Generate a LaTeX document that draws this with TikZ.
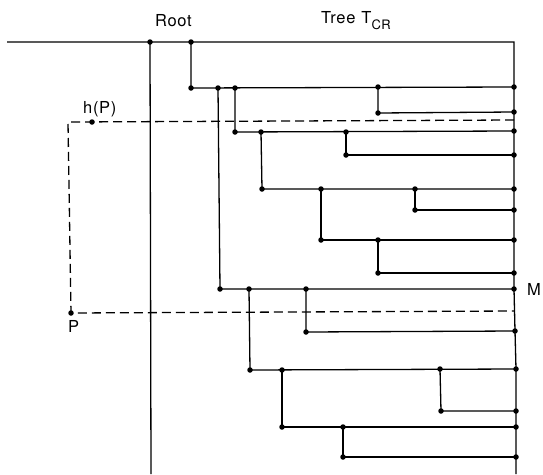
\documentclass[tikz,border=0pt]{standalone}
\usepackage{fontspec}
\setmainfont{TeX Gyre Heros}[LetterSpace=4]
\begin{document}
\begin{tikzpicture}[x=1pt,y=-1pt,
  edge/.style={line width=1.3pt},
  dashline/.style={line width=1.3pt,dash pattern=on 9pt off 5pt},
  dot/.style={circle,fill=black,inner sep=0pt,minimum size=5.5pt},
  lbl/.style={inner sep=0pt,anchor=base west,font=\fontsize{16.5}{18}\selectfont}]
\useasboundingbox (0,0) rectangle (543,474);
% coordinates
\coordinate (L0) at (7,42);
\coordinate (TR) at (514,42);
\coordinate (RB) at (151,474);
\coordinate (EB) at (516,474);
\node[dot] (R0) at (150,42) {};
\node[dot] (A) at (191,42) {};
\node[dot] (A1) at (191,88) {};
\node[dot] (B1) at (218,88) {};
\node[dot] (B2) at (235,88) {};
\node[dot] (C) at (378,87) {};
\node[dot] (E1) at (514,87) {};
\node[dot] (C1) at (378,113) {};
\node[dot] (E2) at (514,112) {};
\node[dot] (D) at (235,132) {};
\node[dot] (D1) at (261,132) {};
\node[dot] (D2) at (346,132) {};
\node[dot] (E3) at (514,131) {};
\node[dot] (D3) at (346,155) {};
\node[dot] (E4) at (514,155) {};
\node[dot] (F) at (262,189) {};
\node[dot] (F1) at (321,189) {};
\node[dot] (F2) at (415,189) {};
\node[dot] (E5) at (514,189) {};
\node[dot] (F3) at (415,210) {};
\node[dot] (E6) at (514,210) {};
\node[dot] (G) at (321,240) {};
\node[dot] (G1) at (378,240) {};
\node[dot] (E7) at (514,240) {};
\node[dot] (G2) at (378,273) {};
\node[dot] (E8) at (514,273) {};
\node[dot] (H) at (220,289) {};
\node[dot] (H1) at (249,289) {};
\node[dot] (H2) at (306,289) {};
\node[dot] (M) at (514,289) {};
\node[dot] (H3) at (306,332) {};
\node[dot] (E10) at (515,331) {};
\node[dot] (I) at (250,370) {};
\node[dot] (I1) at (282,370) {};
\node[dot] (I2) at (440,369) {};
\node[dot] (E11) at (516,369) {};
\node[dot] (I3) at (441,411) {};
\node[dot] (E12) at (516,411) {};
\node[dot] (J) at (282,427) {};
\node[dot] (J1) at (343,427) {};
\node[dot] (E13) at (516,427) {};
\node[dot] (J2) at (343,457) {};
\node[dot] (E14) at (516,457) {};
% dashed path
\node[dot] (hP) at (92,122) {};
\node[dot] (P) at (71,313) {};
\coordinate (Q1) at (514,120);
\coordinate (Q0) at (68,122);
\coordinate (Q2) at (514,311);
% solid edges
\draw[edge] (L0) -- (TR) -- (E1.center) -- (E2.center) -- (E3.center) -- (E4.center) -- (E5.center) -- (E6.center) -- (E7.center) -- (E8.center) -- (M.center) -- (E10.center) -- (E11.center) -- (E12.center) -- (E13.center) -- (E14.center) -- (EB);
\draw[edge] (R0.center) -- (RB);
\draw[edge] (A.center) -- (A1.center) -- (E1.center);
\draw[edge] (C.center) -- (C1.center) -- (E2.center);
\draw[edge] (B2.center) -- (D.center) -- (E3.center);
\draw[edge] (D2.center) -- (D3.center) -- (E4.center);
\draw[edge] (D1.center) -- (F.center) -- (E5.center);
\draw[edge] (F2.center) -- (F3.center) -- (E6.center);
\draw[edge] (F1.center) -- (G.center) -- (E7.center);
\draw[edge] (G1.center) -- (G2.center) -- (E8.center);
\draw[edge] (B1.center) -- (H.center) -- (M.center);
\draw[edge] (H2.center) -- (H3.center) -- (E10.center);
\draw[edge] (H1.center) -- (I.center) -- (E11.center);
\draw[edge] (I2.center) -- (I3.center) -- (E12.center);
\draw[edge] (I1.center) -- (J.center) -- (E13.center);
\draw[edge] (J1.center) -- (J2.center) -- (E14.center);
% dashed
\draw[dashline] (Q1) -- (Q0) -- (P.center) -- (Q2);
% labels
\node[lbl] (tRoot) at (155,26) {Root};
\node[lbl] (tTree) at (321,23.5) {Tree\hspace{6pt}T\raisebox{-6pt}{\fontsize{13}{13}\selectfont CR}};
\node[lbl] (thP) at (83,113) {h(P)};
\node[lbl] (tP) at (68,332) {P};
\node[lbl] (tM) at (527,295) {M};
\end{tikzpicture}
\end{document}
